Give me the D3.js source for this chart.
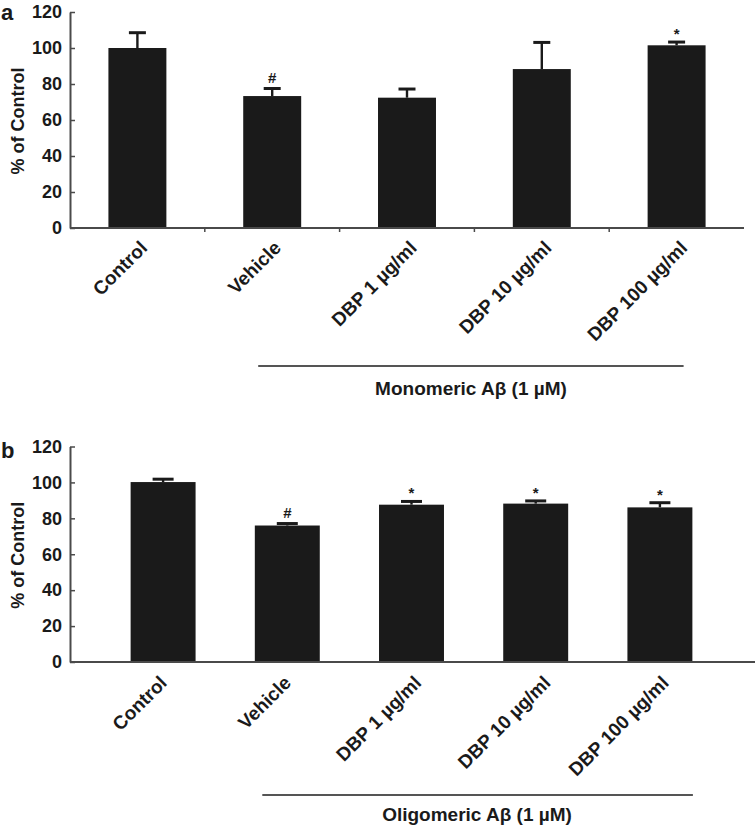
<!DOCTYPE html>
<html>
<head>
<meta charset="utf-8">
<script src="https://cdn.jsdelivr.net/npm/d3@7"></script>
<style>
  html, body { margin: 0; padding: 0; background: #fff; }
  svg { display: block; }
  text { font-family: "Liberation Sans", Arial, Helvetica, sans-serif; font-weight: bold; fill: #1a1a1a; }
</style>
</head>
<body>
<svg id="chart" width="755" height="829"></svg>
<script>
// ---- data ----
const categories = ["Control", "Vehicle", "DBP 1 \u00b5g/ml", "DBP 10 \u00b5g/ml", "DBP 100 \u00b5g/ml"];
const valuesA = [100, 73.3, 72.4, 88.3, 101.5];
const errorsA = [8.5, 4.2, 4.8, 14.8, 1.8];
const marksA = ["", "#", "", "", "*"];
const valuesB = [100.2, 76, 87.6, 88.2, 86.1];
const errorsB = [1.6, 1.1, 1.8, 1.5, 2.6];
const marksB = ["", "#", "*", "*", "*"];
const yTicks = [0, 20, 40, 60, 80, 100, 120];
const yTitle = "% of Control";
const groupA = "Monomeric A\u03b2 (1 \u00b5M)";
const groupB = "Oligomeric A\u03b2 (1 \u00b5M)";

const svg = d3.select("#chart");
const BAR = "#1a1a1a";
const AX = "#4a4a4a";

function panel(cfg) {
  const g = svg.append("g");
  const y = d3.scaleLinear().domain([0, 120]).range([cfg.y0, cfg.y120]);
  const x = d3.scaleBand().domain(categories).range(cfg.bandRange)
    .paddingInner(cfg.pad).paddingOuter(cfg.pad / 2);
  const bw = x.bandwidth();

  // y axis
  const ya = g.append("g").attr("transform", `translate(${cfg.axisX},0)`)
    .call(d3.axisLeft(y).tickValues(yTicks).tickSizeInner(-5).tickSizeOuter(0).tickPadding(8));
  ya.select(".domain").attr("stroke", AX).attr("stroke-width", 2);
  ya.selectAll(".tick line").attr("stroke", AX).attr("stroke-width", 1.5);
  ya.selectAll(".tick text").attr("font-size", 18).attr("font-family", "Liberation Sans, Arial, sans-serif")
    .attr("font-weight", "bold").attr("fill", "#1a1a1a");

  // bars
  g.selectAll("rect.bar").data(cfg.values).enter().append("rect")
    .attr("class", "bar")
    .attr("x", (d, i) => x(categories[i]))
    .attr("width", bw)
    .attr("y", d => y(d))
    .attr("height", d => y(0) - y(d))
    .attr("fill", BAR);

  // error bars
  const eg = g.selectAll("g.err").data(cfg.values).enter().append("g").attr("class", "err");
  eg.append("line")
    .attr("x1", (d, i) => x(categories[i]) + bw / 2)
    .attr("x2", (d, i) => x(categories[i]) + bw / 2)
    .attr("y1", d => y(d))
    .attr("y2", (d, i) => y(d + cfg.errors[i]))
    .attr("stroke", BAR).attr("stroke-width", 2.4);
  eg.append("line")
    .attr("x1", (d, i) => x(categories[i]) + bw / 2 - cfg.cap / 2)
    .attr("x2", (d, i) => x(categories[i]) + bw / 2 + cfg.cap / 2)
    .attr("y1", (d, i) => y(d + cfg.errors[i]))
    .attr("y2", (d, i) => y(d + cfg.errors[i]))
    .attr("stroke", BAR).attr("stroke-width", 3);

  // significance marks
  g.selectAll("text.mark").data(cfg.marks).enter().append("text")
    .attr("class", "mark")
    .attr("x", (d, i) => x(categories[i]) + bw / 2)
    .attr("y", (d, i) => y(cfg.values[i] + cfg.errors[i]) - (d === "*" ? 3 : 6))
    .attr("text-anchor", "middle")
    .attr("font-size", 15)
    .attr("font-weight", "normal")
    .text(d => d);

  // x axis line
  g.append("line")
    .attr("x1", cfg.axisX).attr("x2", cfg.axisEnd)
    .attr("y1", y(0)).attr("y2", y(0))
    .attr("stroke", AX).attr("stroke-width", 2);
  if (cfg.sepTicks) {
    const sep = categories.slice(1).map(c => x(c) - x.step() * x.paddingInner() / 2);
    g.selectAll("line.sep").data(sep).enter().append("line")
      .attr("x1", d => d).attr("x2", d => d)
      .attr("y1", y(0)).attr("y2", y(0) + 4)
      .attr("stroke", AX).attr("stroke-width", 1.5);
  }

  // category labels
  g.selectAll("text.cat").data(categories).enter().append("text")
    .attr("class", "cat")
    .attr("text-anchor", "end")
    .attr("font-size", 19)
    .attr("transform", (d, i) => `translate(${x(d) + bw / 2 + cfg.labelDx[i]},${y(0) + cfg.labelDy}) rotate(-45)`)
    .text(d => d);

  // y title
  g.append("text")
    .attr("transform", `translate(24,${(y(0) + y(120)) / 2 + 1}) rotate(-90)`)
    .attr("text-anchor", "middle")
    .attr("font-size", 18)
    .text(yTitle);

  // panel letter
  g.append("text")
    .attr("x", 1).attr("y", cfg.letterY)
    .attr("font-size", 22)
    .text(cfg.letter);

  // group line & label
  g.append("line")
    .attr("x1", x(categories[1]) + bw / 2 - cfg.groupPadL)
    .attr("x2", x(categories[4]) + bw / 2 + cfg.groupPadR)
    .attr("y1", cfg.groupLineY).attr("y2", cfg.groupLineY)
    .attr("stroke", "#555").attr("stroke-width", 2.2);
  g.append("text")
    .attr("x", cfg.groupTextX)
    .attr("y", cfg.groupTextY)
    .attr("text-anchor", "middle")
    .attr("font-size", 19)
    .text(cfg.group);
}

panel({
  letter: "a", letterY: 20,
  values: valuesA, errors: errorsA, marks: marksA,
  y0: 228, y120: 12, axisX: 70, axisEnd: 744,
  bandRange: [70, 744], pad: 0.57, cap: 17, sepTicks: true,
  labelDx: [11, 10, 11, 11, 12], labelDy: 21,
  group: groupA, groupLineY: 366, groupPadL: 14, groupPadR: 7,
  groupTextX: 471, groupTextY: 395
});

panel({
  letter: "b", letterY: 458,
  values: valuesB, errors: errorsB, marks: marksB,
  y0: 662, y120: 446.5, axisX: 70, axisEnd: 755,
  bandRange: [101, 722], pad: 0.477, cap: 21, sepTicks: false,
  labelDx: [5, 5, 11, 16, 10], labelDy: 22,
  group: groupB, groupLineY: 795, groupPadL: 25, groupPadR: 33,
  groupTextX: 477, groupTextY: 821
});
</script>
</body>
</html>
